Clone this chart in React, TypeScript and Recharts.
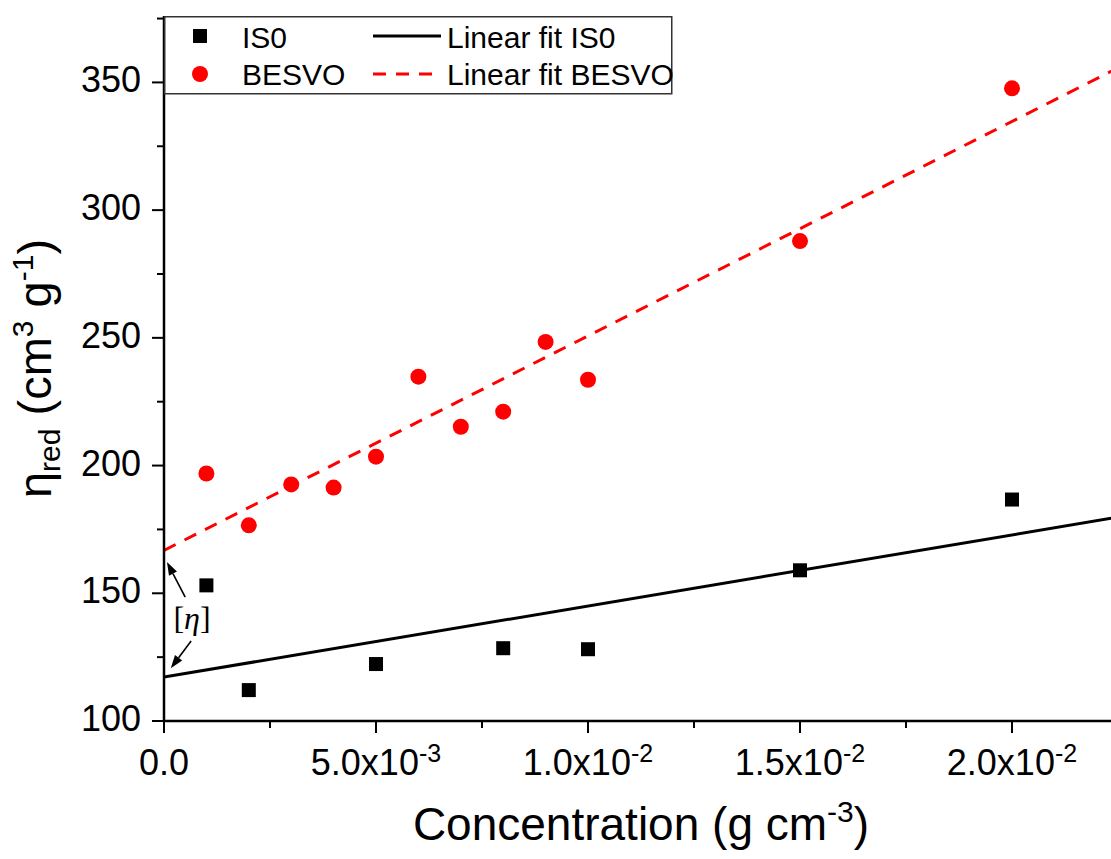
import React from 'react';
import { ComposedChart, Scatter, Line, XAxis, YAxis, ReferenceLine, ReferenceDot, Legend } from 'recharts';

// ---- data ----
const is0X = [0.001, 0.002, 0.005, 0.008, 0.010, 0.015, 0.020];
const is0Y = [153.1, 112.1, 122.3, 128.5, 128.1, 159.0, 186.7];
const besvoX = [0.001, 0.002, 0.003, 0.004, 0.005, 0.006, 0.007, 0.008, 0.009, 0.010, 0.015, 0.020];
const besvoY = [196.9, 176.6, 192.6, 191.4, 203.5, 234.8, 215.2, 221.1, 248.4, 233.6, 287.9, 347.7];
const fitX = [0, 0.0225];
const is0FitY = [117.2, 179.8];
const besvoFitY = [166.8, 355.7];

const xDomain = [0, 0.0225];
const yDomain = [100, 376];
const xMajorTicks = [0, 0.005, 0.01, 0.015, 0.02];
const xMinorTicks = [0.0025, 0.0075, 0.0125, 0.0175, 0.0225];
const xTickMantissa = ['0.0', '5.0x10', '1.0x10', '1.5x10', '2.0x10'];
const xTickExponent = ['', '-3', '-2', '-2', '-2'];
const yMajorTicks = [100, 150, 200, 250, 300, 350];
const yMinorTicks = [125, 175, 225, 275, 325, 375];

const seriesNames = ['IS0', 'BESVO'];
const fitNames = ['Linear fit IS0', 'Linear fit BESVO'];

// annotation anchors (data coordinates)
const upperArrow = [{ x: 0.0005, y: 148.5 }, { x: 0.00007, y: 162.2 }];
const lowerArrow = [{ x: 0.00064, y: 131.3 }, { x: 0.00016, y: 120.7 }];
const etaLabelPos = { x: 0.00066, y: 140.3 };

const FONT = '"Liberation Sans", Arial, sans-serif';
const SERIF = '"Liberation Serif", "DejaVu Serif", serif';
const RED = '#ff0000';

const is0Data = is0X.map((x, i) => ({ x, y: is0Y[i] }));
const besvoData = besvoX.map((x, i) => ({ x, y: besvoY[i] }));
const is0Fit = fitX.map((x, i) => ({ x, y: is0FitY[i] }));
const besvoFit = fitX.map((x, i) => ({ x, y: besvoFitY[i] }));

const near = (a: number, b: number) => Math.abs(a - b) < 1e-9;

const XTick = (props: any) => {
  const { x, y, payload } = props;
  const i = xMajorTicks.findIndex((t) => near(t, payload.value));
  const major = i >= 0;
  return (
    <g>
      <line x1={x} x2={x} y1={y} y2={y + (major ? 12 : 7)} stroke="#000" strokeWidth={2} />
      {major && (
        <text x={x} y={y + 54} textAnchor="middle" fontFamily={FONT} fontSize={36} fill="#000">
          {xTickMantissa[i]}
          {xTickExponent[i] ? (
            <tspan dy={-13} fontSize={25}>{xTickExponent[i]}</tspan>
          ) : null}
        </text>
      )}
    </g>
  );
};

const YTick = (props: any) => {
  const { x, y, payload } = props;
  const major = yMajorTicks.some((t) => near(t, payload.value));
  return (
    <g>
      <line x1={x - (major ? 12 : 7)} x2={x} y1={y} y2={y} stroke="#000" strokeWidth={2} />
      {major && (
        <text x={x - 23} y={y + 10} textAnchor="end" fontFamily={FONT} fontSize={36} fill="#000">
          {payload.value}
        </text>
      )}
    </g>
  );
};

const YTitle = (props: any) => {
  const vb = props.viewBox;
  const cx = vb.x + 51;
  const cy = vb.y + vb.height / 2;
  return (
    <text
      x={cx}
      y={cy}
      transform={`rotate(-90, ${cx}, ${cy})`}
      textAnchor="middle"
      fontFamily={FONT}
      fontSize={47}
      fill="#000"
    >
      η<tspan dy={9} fontSize={30}>red</tspan>
      <tspan dy={-9}> (cm</tspan>
      <tspan dy={-18} fontSize={30}>3</tspan>
      <tspan dy={18}> g</tspan>
      <tspan dy={-18} fontSize={30}>-1</tspan>
      <tspan dy={18}>)</tspan>
    </text>
  );
};

const XTitle = (props: any) => {
  const vb = props.viewBox;
  const cx = vb.x + vb.width / 2;
  return (
    <text x={cx} y={vb.y + 119} textAnchor="middle" fontFamily={FONT} fontSize={46} fill="#000">
      Concentration (g cm<tspan dy={-18} fontSize={30}>-3</tspan>
      <tspan dy={18}>)</tspan>
    </text>
  );
};

const SquareShape = (p: any) => (
  <rect x={p.cx - 7} y={p.cy - 7} width={14} height={14} fill="#000" />
);
const CircleShape = (p: any) => <circle cx={p.cx} cy={p.cy} r={8} fill={RED} />;

const ArrowShape = (p: any) => {
  const { x1, y1, x2, y2 } = p;
  if ([x1, y1, x2, y2].some((v) => v == null || Number.isNaN(v))) return null;
  const ang = Math.atan2(y2 - y1, x2 - x1);
  const L = 13;
  const W = 4.5;
  const bx = x2 - L * Math.cos(ang);
  const by = y2 - L * Math.sin(ang);
  const px = -Math.sin(ang) * W;
  const py = Math.cos(ang) * W;
  return (
    <g>
      <line x1={x1} y1={y1} x2={bx} y2={by} stroke="#000" strokeWidth={1.6} />
      <polygon points={`${x2},${y2} ${bx + px},${by + py} ${bx - px},${by - py}`} fill="#000" />
    </g>
  );
};

const EtaLabel = (props: any) => {
  const vb = props.viewBox || {};
  const cx = (vb.x ?? 0) + (vb.width ?? 0) / 2;
  const cy = (vb.y ?? 0) + (vb.height ?? 0) / 2;
  return (
    <text x={cx} y={cy + 11} textAnchor="middle" fontFamily={SERIF} fontSize={32} fill="#000">
      [<tspan fontStyle="italic">η</tspan>]
    </text>
  );
};

const LegendBox = () => (
  <svg width={510} height={80} style={{ display: 'block' }}>
    <rect x={0.75} y={0.75} width={507} height={77} fill="#fff" stroke="#333" strokeWidth={1.5} />
    <rect x={29} y={13} width={14} height={14} fill="#000" />
    <circle cx={36} cy={58} r={8} fill={RED} />
    <text x={78} y={32} fontFamily={FONT} fontSize={30} fill="#000">{seriesNames[0]}</text>
    <text x={78} y={69} fontFamily={FONT} fontSize={30} fill="#000">{seriesNames[1]}</text>
    <line x1={209} x2={277} y1={20} y2={20} stroke="#000" strokeWidth={3} />
    <line x1={209} x2={277} y1={58} y2={58} stroke={RED} strokeWidth={3} strokeDasharray="13 10" />
    <text x={283} y={32} fontFamily={FONT} fontSize={30} fill="#000">{fitNames[0]}</text>
    <text x={283} y={69} fontFamily={FONT} fontSize={30} fill="#000">{fitNames[1]}</text>
  </svg>
);

export default function App() {
  const xTicks = [...xMajorTicks, ...xMinorTicks].sort((a, b) => a - b);
  const yTicks = [...yMajorTicks, ...yMinorTicks].sort((a, b) => a - b);
  return (
    <div style={{ position: 'absolute', left: 0, top: 0, width: 1111, height: 859, overflow: 'hidden', background: '#fff' }}>
      <ComposedChart width={1120} height={859} margin={{ top: 16, right: 2, bottom: 0, left: 0 }}>
        <XAxis
          xAxisId="top"
          orientation="top"
          type="number"
          dataKey="x"
          domain={xDomain}
          height={0}
          tick={false}
          tickLine={false}
          axisLine={{ stroke: '#000', strokeWidth: 2.5 }}
          allowDataOverflow
        />
        <XAxis
          type="number"
          dataKey="x"
          domain={xDomain}
          ticks={xTicks}
          interval={0}
          tick={<XTick />}
          tickSize={0}
          tickMargin={0}
          tickLine={false}
          height={138}
          axisLine={{ stroke: '#000', strokeWidth: 2.5 }}
          allowDataOverflow
          label={{ content: (p: any) => <XTitle {...p} /> }}
        />
        <YAxis
          type="number"
          dataKey="y"
          domain={yDomain}
          ticks={yTicks}
          interval={0}
          tick={<YTick />}
          tickSize={0}
          tickMargin={0}
          tickLine={false}
          width={164}
          axisLine={{ stroke: '#000', strokeWidth: 2.5 }}
          allowDataOverflow
          label={{ content: (p: any) => <YTitle {...p} /> }}
        />
        <Legend
          layout="vertical"
          align="center"
          verticalAlign="middle"
          wrapperStyle={{ position: 'absolute', left: 164, top: 16, width: 510, height: 80 }}
          content={() => <LegendBox />}
        />
        <Line
          data={is0Fit}
          dataKey="y"
          type="linear"
          stroke="#000"
          strokeWidth={3}
          dot={false}
          activeDot={false}
          isAnimationActive={false}
          name={fitNames[0]}
        />
        <Line
          data={besvoFit}
          dataKey="y"
          type="linear"
          stroke={RED}
          strokeWidth={3}
          strokeDasharray="13 10"
          dot={false}
          activeDot={false}
          isAnimationActive={false}
          name={fitNames[1]}
        />
        <Scatter data={is0Data} dataKey="y" shape={SquareShape} isAnimationActive={false} name={seriesNames[0]} />
        <Scatter data={besvoData} dataKey="y" shape={CircleShape} isAnimationActive={false} name={seriesNames[1]} />
        <ReferenceLine segment={upperArrow} shape={ArrowShape} ifOverflow="visible" />
        <ReferenceLine segment={lowerArrow} shape={ArrowShape} ifOverflow="visible" />
        <ReferenceDot
          x={etaLabelPos.x}
          y={etaLabelPos.y}
          r={0}
          fill="none"
          stroke="none"
          ifOverflow="visible"
          label={{ content: (p: any) => <EtaLabel {...p} /> }}
        />
      </ComposedChart>
    </div>
  );
}
